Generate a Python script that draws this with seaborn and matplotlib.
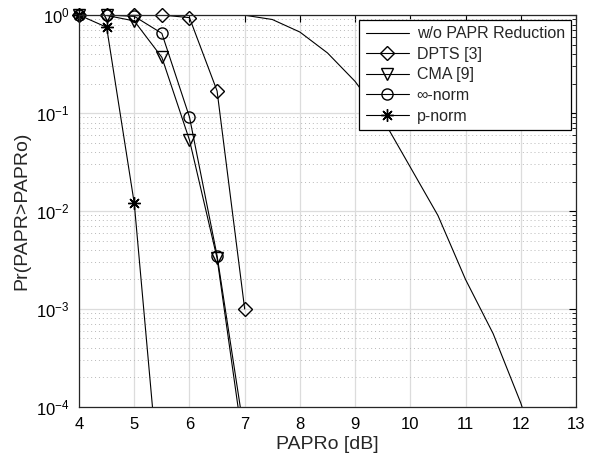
import numpy as np
import pandas as pd
import matplotlib
matplotlib.use("Agg")
import matplotlib.pyplot as plt
from matplotlib.lines import Line2D
import seaborn as sns
from matplotlib.ticker import LogLocator, NullFormatter, MultipleLocator

sns.set_style("white")
plt.rcParams["font.family"] = ["Liberation Sans", "DejaVu Sans"]
plt.rcParams["mathtext.fontset"] = "custom"
plt.rcParams["mathtext.rm"] = "Liberation Sans"
plt.rcParams["mathtext.it"] = "Liberation Sans:italic"

# CCDF of PAPR (x in dB)
papr_orig = [4, 4.5, 5, 5.5, 6, 6.5, 7, 7.5, 8, 8.5, 9, 9.5, 10, 10.5, 11, 11.5, 12, 12.5]
ccdf_orig = [1.0, 1.0, 1.0, 1.0, 1.0, 1.0, 0.995, 0.90, 0.67, 0.41, 0.21, 0.087,
             0.028, 0.009, 0.002, 5.6e-4, 1.1e-4, 1.5e-5]

papr_red = [4, 4.5, 5, 5.5, 6, 6.5, 7]
ccdf_dpts = [1.0, 1.0, 1.0, 1.0, 0.94, 0.168, 1.0e-3]
ccdf_cma = [1.0, 0.99, 0.87, 0.37, 0.053, 3.3e-3, 3.3e-5]
ccdf_inf = [1.0, 1.0, 0.97, 0.65, 0.091, 3.5e-3, 5.1e-5]

papr_p = [4, 4.5, 5, 5.5]
ccdf_p = [1.0, 0.75, 0.012, 8.5e-6]

labels = ["w/o PAPR Reduction", "DPTS [3]", "CMA [9]", "\u221e-norm", "p-norm"]

Y_MIN, Y_MAX = 1e-4, 1.0

fig = plt.figure(figsize=(5.96, 4.59), dpi=100)
ax = fig.add_axes([0.1326, 0.1133, 0.8338, 0.854])
ax.set_yscale("log")

series = [
    (papr_orig, ccdf_orig, None, 0),
    (papr_red, ccdf_dpts, "D", 7),
    (papr_red, ccdf_cma, "v", 8),
    (papr_red, ccdf_inf, "o", 8),
    (papr_p, ccdf_p, (8, 2, 0), 9),
]

handles = []
for (xs, ys, mk, ms), lab in zip(series, labels):
    df = pd.DataFrame({"x": xs, "y": ys})
    # connecting line, clipped to the axes
    sns.lineplot(data=df, x="x", y="y", ax=ax, color="black", linewidth=0.8,
                 sort=False, legend=False)
    mstyle = {}
    if mk is not None:
        mstyle = dict(marker=mk, markersize=ms, markerfacecolor="none",
                      markeredgecolor="black", markeredgewidth=1.0)
        # markers drawn unclipped so those on the top edge stay whole
        inside = df[(df["y"] >= Y_MIN) & (df["y"] <= Y_MAX)]
        sns.lineplot(data=inside, x="x", y="y", ax=ax, color="black", linestyle="",
                     sort=False, legend=False, clip_on=False, **mstyle)
    handles.append(Line2D([], [], color="black", linewidth=0.8, label=lab, **mstyle))

ax.set_xlim(4, 13)
ax.set_ylim(Y_MIN, Y_MAX)
ax.xaxis.set_major_locator(MultipleLocator(1))
ax.yaxis.set_major_locator(LogLocator(base=10, numticks=10))
ax.yaxis.set_minor_locator(LogLocator(base=10, subs=np.arange(2, 10), numticks=20))
ax.yaxis.set_minor_formatter(NullFormatter())

ax.grid(True, which="major", color="#dcdcdc", linewidth=0.9, linestyle="-")
ax.grid(True, which="minor", axis="y", color="#b8b8b8", linewidth=0.7, linestyle=(0, (1, 3)))
ax.set_axisbelow(True)

ax.tick_params(axis="both", which="both", direction="in", top=True, right=True,
               labelsize=12, colors="black")
ax.tick_params(which="major", length=5, width=0.8)
ax.tick_params(which="minor", length=3, width=0.6)
ax.tick_params(axis="x", pad=7)
ax.tick_params(axis="y", pad=7)
for sp in ax.spines.values():
    sp.set_color("#262626")
    sp.set_linewidth(0.9)

ax.set_xlabel("PAPRo [dB]", fontsize=14, labelpad=3)
ax.set_ylabel("Pr(PAPR>PAPRo)", fontsize=14, labelpad=4)

leg = ax.legend(handles=handles, loc="upper right", fontsize=11.5, frameon=True,
                fancybox=False, edgecolor="black", framealpha=1, handlelength=2.7,
                borderpad=0.4, labelspacing=0.35, borderaxespad=0.3, handletextpad=0.5)
leg.get_frame().set_linewidth(0.9)

fig.savefig("out.png", dpi=100)
